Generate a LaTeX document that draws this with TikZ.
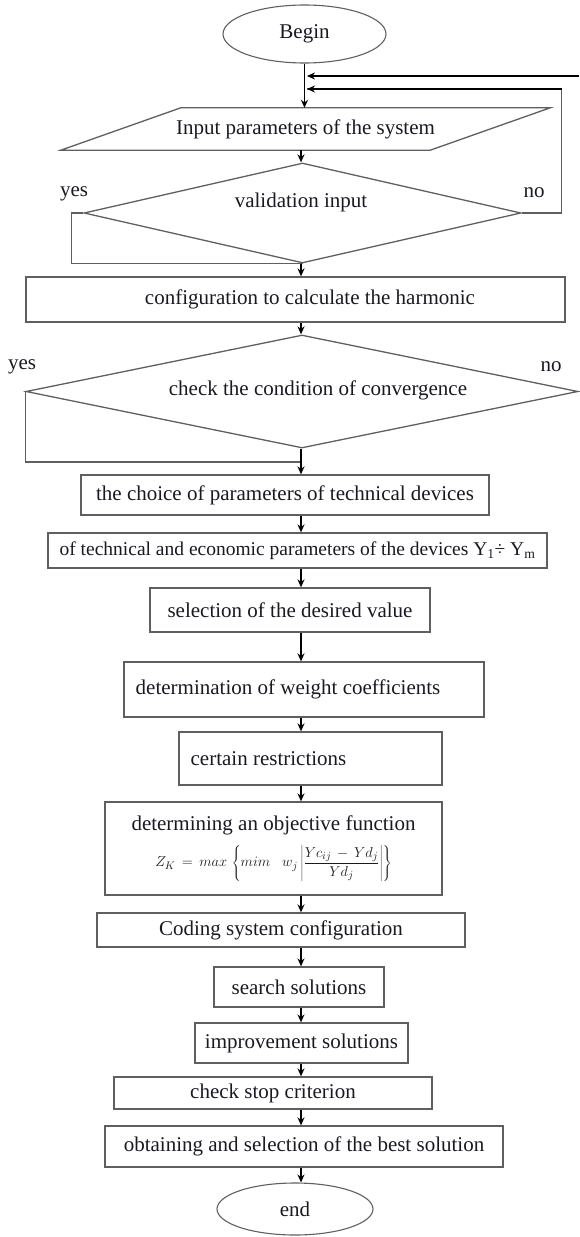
\documentclass[tikz,border=0pt]{standalone}
\usepackage{fontspec}
\setmainfont{Liberation Serif}
\usetikzlibrary{arrows.meta,shapes.geometric}
\definecolor{linegray}{RGB}{95,95,95}
\definecolor{inkdark}{RGB}{25,25,35}
\tikzset{
  flowline/.style={draw=linegray,line width=1.3pt},
  flowarrow/.style={draw=black,line width=1.3pt,-{Stealth[length=8pt,width=7pt]}},
  procbox/.style={rectangle,draw=linegray,line width=1.3pt,inner sep=0pt,text=inkdark,font=\fontsize{21}{24}\selectfont},
  termbox/.style={ellipse,draw=linegray,line width=1.1pt,inner sep=0pt,text=inkdark,font=\fontsize{21}{24}\selectfont},
  decbox/.style={diamond,draw=linegray,line width=1.3pt,inner sep=0pt},
  plaintext/.style={inner sep=0pt,text=inkdark,font=\fontsize{21}{24}\selectfont}
}
\begin{document}
\begin{tikzpicture}[x=1pt,y=-1pt]
\useasboundingbox (0,0) rectangle (579,1237);
\coordinate (spine) at (301,0);
\node[termbox,minimum width=163,minimum height=58] (begin) at (304.5,34) {Begin};
\node[plaintext,minimum width=369,minimum height=42] (input) at (305.5,129) {Input parameters of the system};
\draw[flowline] ([xshift=60]input.north west) -- ([xshift=60]input.north east) -- ([xshift=-60]input.south east) -- ([xshift=-60]input.south west) -- cycle;
\node[decbox,minimum width=437,minimum height=100] (valid) at (302.5,213) {};
\node[plaintext] (validtxt) at (301,202) {validation input};
\node[plaintext] (yesA) at (74,194) {yes};
\node[plaintext] (noA) at (534,193) {no};
\node[procbox,minimum width=539,minimum height=45] (conf) at (295.5,299.5) {\hspace*{29pt}configuration to calculate the harmonic};
\node[decbox,minimum width=552,minimum height=113] (conv) at (302,391.5) {};
\node[plaintext] (convtxt) at (318,390) {check the condition of convergence};
\node[plaintext] (yesB) at (22,367) {yes};
\node[plaintext] (noB) at (551,367) {no};
\node[procbox,minimum width=408,minimum height=40] (choice) at (285,495) {the choice of parameters of technical devices};
\node[procbox,minimum width=499,minimum height=35,font=\fontsize{19.5}{22}\selectfont] (econ) at (297.5,550.5) {of technical and economic parameters of the devices Y\textsubscript{1}÷ Y\textsubscript{m}};
\node[procbox,minimum width=280,minimum height=44] (sel) at (290,610) {selection of the desired value};
\node[procbox,minimum width=360,minimum height=55] (weight) at (304,689.5) {determination of weight coefficients\hspace*{32pt}};
\node[procbox,minimum width=263,minimum height=53] (restr) at (310.5,758.5) {certain restrictions\hspace*{84pt}};
\node[procbox,minimum width=337,minimum height=93,align=center] (obj) at (273.5,848.5) {determining an objective function\\[9pt]
  {\fontsize{15}{17}\selectfont$\displaystyle Z_{K} \,=\, max\,\left\{ mim\;\;\; w_{j}\left|\frac{Yc_{ij} \,-\, Yd_{j}}{Yd_{j}}\right|\right\}$}};
\node[procbox,minimum width=368,minimum height=34] (coding) at (281,930) {Coding system configuration};
\node[procbox,minimum width=170,minimum height=40] (search) at (299,987) {search solutions};
\node[procbox,minimum width=213,minimum height=40] (improv) at (301.5,1043) {improvement solutions};
\node[procbox,minimum width=318,minimum height=32] (stop) at (273,1093) {check stop criterion};
\node[procbox,minimum width=398,minimum height=41] (best) at (304,1146.5) {obtaining and selection of the best solution};
\node[termbox,minimum width=156,minimum height=52] (endnode) at (295,1209) {end};
\coordinate (fbA) at (307,76);
\coordinate (fbB) at (307,89);
\coordinate (edgeA) at (579,76);
\coordinate (joinB) at (301,462);
\draw[flowarrow] (begin.south) -- (begin.south |- input.north);
\draw[flowarrow] (edgeA) -- (fbA);
\draw[flowline] (valid.east) -- ++(40,0) |- (fbB);
\draw[flowarrow] ([xshift=40]valid.east |- fbB) -- (fbB);
\draw[flowline] (valid.west) -- ++(-12,0) |- (valid.south);
\draw[flowline] (conv.west) |- (joinB);
\foreach \from/\to in {input/valid,valid/conf,conf/conv,conv/choice,choice/econ,econ/sel,sel/weight,weight/restr,restr/obj,obj/coding,coding/search,search/improv,improv/stop,stop/best,best/endnode}
  \draw[flowarrow] (\from.south -| spine) -- (\to.north -| spine);
\end{tikzpicture}
\end{document}
